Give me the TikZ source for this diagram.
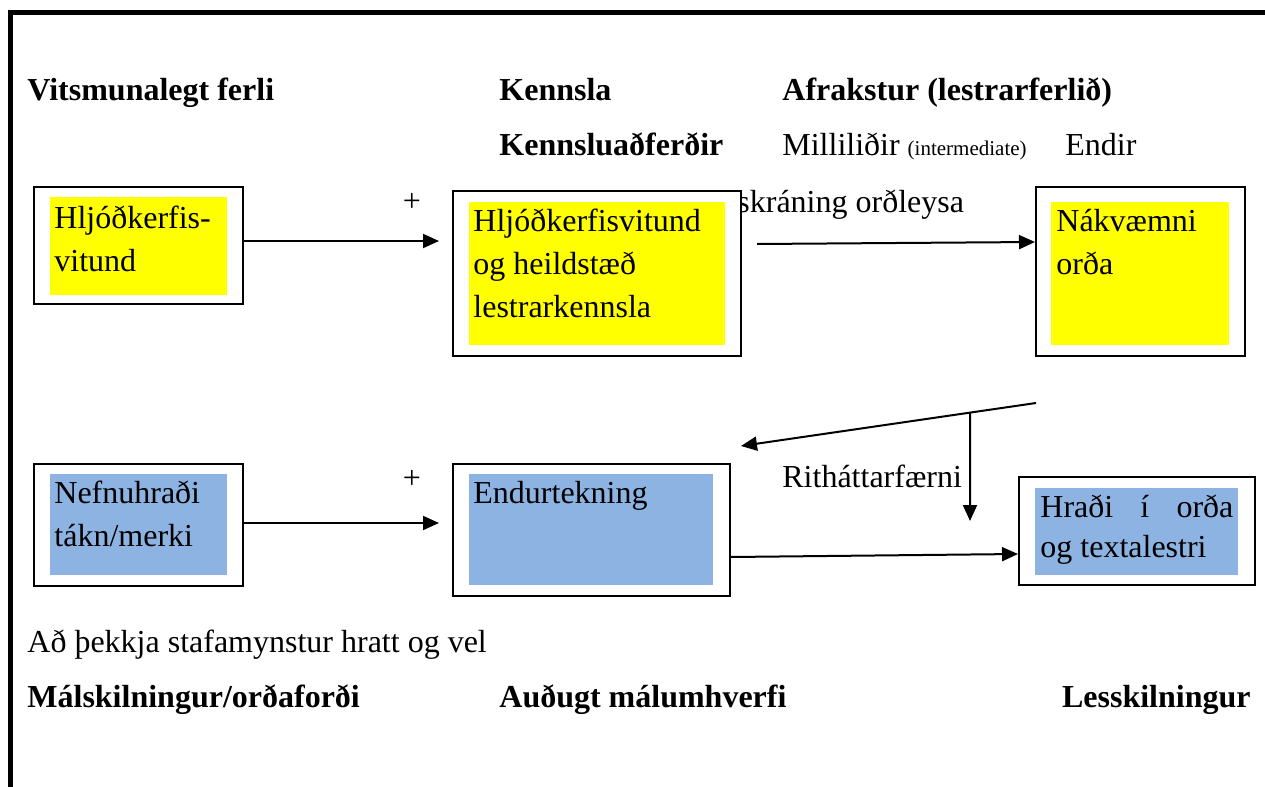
\documentclass[tikz,border=0pt]{standalone}
\usepackage{fontspec}
\setmainfont{Liberation Serif}
\usetikzlibrary{fit,arrows.meta}
\definecolor{gulur}{HTML}{FFFF00}
\definecolor{blar}{HTML}{8DB3E2}
\newcommand{\linur}[1]{\vtop{\baselineskip=21.5pt #1}}
\tikzset{
  rammi/.style={draw=black, line width=2.5pt},
  kassi/.style={draw=black, line width=1pt, fill=white, inner sep=0pt},
  gulfill/.style={fill=gulur, draw=none, inner sep=0pt},
  blafill/.style={fill=blar, draw=none, inner sep=0pt},
  texti/.style={anchor=base west, inner sep=0pt, font=\fontsize{16}{21.5}\selectfont},
  fyrir/.style={anchor=base west, inner sep=0pt, font=\fontsize{16}{19}\selectfont\bfseries},
  venj/.style={anchor=base west, inner sep=0pt, font=\fontsize{16}{19}\selectfont},
  plus/.style={inner sep=0pt, font=\fontsize{16}{18}\selectfont},
  or/.style={-{Triangle[length=8pt,width=7pt]}, line width=1pt},
}

\begin{document}
\begin{tikzpicture}[x=0.5pt, y=-0.5pt]
  \useasboundingbox (0,0) rectangle (1265,787);
  \draw[rammi] (10.5,10) -- (10.5,787);
  \draw[rammi] (8,12.5) -- (1265,12.5);

  % fyrirsagnir
  \node[fyrir] (vits) at (27,100) {Vitsmunalegt ferli};
  \node[fyrir] (kenn) at (499,100) {Kennsla};
  \node[fyrir] (afra) at (782,100) {Afrakstur (lestrarferlið)};
  \node[fyrir] (kadf) at (499,155) {Kennsluaðferðir};
  \node[venj] (mill) at (782,155) {Milliliðir {\fontsize{10.5}{12}\selectfont (intermediate)}};
  \node[venj] (endi) at (1065,155) {Endir};
  \node[venj] (umsk) at (689,212) {Umskráning orðleysa};

  % efri röð
  \node[kassi, fit={(34,187) (243,304)}] (hlj) {};
  \node[gulfill, fit={(50,197) (227,295)}] (hljf) {};
  \node[texti] (hljt) at (54,228) {\linur{\hbox{Hljóðkerfis-}\hbox{vitund}}};

  \node[kassi, fit={(453,191) (741,356)}] (hljk) {};
  \node[gulfill, fit={(469,202) (725,345)}] (hljkf) {};
  \node[texti] (hljkt) at (473,231) {\linur{\hbox{Hljóðkerfisvitund}\hbox{og heildstæð}\hbox{lestrarkennsla}}};

  \node[kassi, fit={(1036,187) (1245,356)}] (nakv) {};
  \node[gulfill, fit={(1051,202) (1229,345)}] (nakvf) {};
  \node[texti] (nakvt) at (1056,231) {\linur{\hbox{Nákvæmni}\hbox{orða}}};

  \node[plus] (p1) at (412,202) {+};

  % neðri röð
  \node[kassi, fit={(34,464) (243,586)}] (nefn) {};
  \node[blafill, fit={(50,474) (227,575)}] (nefnf) {};
  \node[texti] (nefnt) at (54,503) {\linur{\hbox{Nefnuhraði}\hbox{tákn/merki}}};

  \node[kassi, fit={(453,464) (730,596)}] (endt) {};
  \node[blafill, fit={(469,474) (713,585)}] (endtf) {};
  \node[texti] (endtt) at (473,503) {Endurtekning};

  \node[kassi, fit={(1019,477) (1255,585)}] (hrad) {};
  \node[blafill, fit={(1035,488) (1238,575)}] (hradf) {};
  \node[texti] (hradt) at (1040,517) {\linur{\baselineskip=20pt\hbox to 96.5pt{Hraði\hfill í\hfill orða}\hbox{og textalestri}}};

  \node[plus] (p2) at (412,479) {+};
  \node[venj] (rith) at (782,487) {Ritháttarfærni};

  % örvar
  \coordinate (a1) at (439,241);
  \draw[or] (hlj.east |- a1) -- (a1);
  \coordinate (a2s) at (757,244);
  \coordinate (a2e) at (1036,242);
  \draw[or] (a2s) -- (nakv.west |- a2e);
  \coordinate (d1) at (1036,403);
  \coordinate (d2) at (741,446);
  \draw[or] (d1) -- (d2);
  \path (d1) -- (d2) coordinate[pos=0.2237] (d3);
  \coordinate (d4) at (970,521);
  \draw[or] (d3) -- (d4);
  \coordinate (a3) at (439,523);
  \draw[or] (nefn.east |- a3) -- (a3);
  \coordinate (a4s) at (730,557);
  \coordinate (a4e) at (1019,554);
  \draw[or] (endt.east |- a4s) -- (hrad.west |- a4e);

  % neðst
  \node[venj] (thek) at (27,652) {Að þekkja stafamynstur hratt og vel};
  \node[fyrir] (mals) at (27,707) {Málskilningur/orðaforði};
  \node[fyrir] (audu) at (499,707) {Auðugt málumhverfi};
  \node[fyrir, anchor=base east] (less) at (1251,707) {Lesskilningur};
\end{tikzpicture}
\end{document}
